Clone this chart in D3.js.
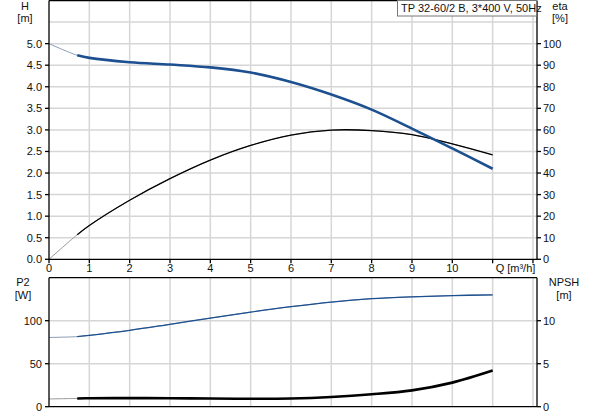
<html>
<head>
<meta charset="utf-8" />
<title>TP 32-60/2 B</title>
<script src="https://d3js.org/d3.v7.min.js"></script>
<style>
  body { margin: 0; background: #fff; }
  text { font-family: "Liberation Sans", Arial, sans-serif; font-size: 11px; fill: #111; }
</style>
</head>
<body>
<div id="chart"></div>
<script>
// flow points [m3/h]
var flow = [0, 0.7, 1, 2, 3, 4, 5, 6, 7, 8, 9, 10, 11];
// head H [m]
var head = [5.0, 4.73, 4.67, 4.57, 4.515, 4.45, 4.33, 4.11, 3.82, 3.47, 3.03, 2.57, 2.1];
// efficiency eta [%]
var eta = [0, 11.4, 15.7, 27.4, 37.4, 46.0, 52.8, 57.6, 59.9, 59.7, 57.8, 53.5, 48.4];
// power P2 [W]
var power = [80.5, 81.5, 83, 88.8, 95.8, 103, 110, 116.3, 121.7, 125.6, 127.8, 129.2, 130];
// NPSH [m]
var npsh = [0.9, 0.96, 0.98, 1.0, 0.98, 0.95, 0.93, 0.96, 1.13, 1.44, 1.9, 2.8, 4.2];

var xTicks = [0, 1, 2, 3, 4, 5, 6, 7, 8, 9, 10];
var hTicks = [0, 0.5, 1, 1.5, 2, 2.5, 3, 3.5, 4, 4.5, 5];
var etaTicks = [0, 10, 20, 30, 40, 50, 60, 70, 80, 90, 100];
var p2Ticks = [0, 50, 100];
var npshTicks = [0, 5, 10];
var title = "TP 32-60/2 B, 3*400 V, 50Hz";

var width = 593, height = 415;
var left = 49, right = 537;
var topY0 = 259.3, topY1 = 0.5;
var botY0 = 406.7, botY1 = 277.7;
var blue = "#1d5090", grid = "#d6d6d6";

var svg = d3.select("#chart").append("svg")
    .attr("width", width).attr("height", height);

var x = d3.scaleLinear().domain([0, 12.1]).range([left, right]);
var yH = d3.scaleLinear().domain([0, 6]).range([topY0, topY1]);
var yEta = d3.scaleLinear().domain([0, 120]).range([topY0, topY1]);
var yP2 = d3.scaleLinear().domain([0, 150]).range([botY0, botY1]);
var yNpsh = d3.scaleLinear().domain([0, 15]).range([botY0, botY1]);

var gridX = d3.range(1, 13);

// grids
var g = svg.append("g").attr("stroke", grid).attr("stroke-width", 1.5);
gridX.forEach(function(v) {
  g.append("line").attr("x1", x(v)).attr("x2", x(v)).attr("y1", topY1).attr("y2", topY0);
  g.append("line").attr("x1", x(v)).attr("x2", x(v)).attr("y1", botY1).attr("y2", botY0);
});
d3.range(0.5, 6, 0.5).forEach(function(v) {
  g.append("line").attr("x1", left).attr("x2", right).attr("y1", yH(v)).attr("y2", yH(v));
});
[50, 100].forEach(function(v) {
  g.append("line").attr("x1", left).attr("x2", right).attr("y1", yP2(v)).attr("y2", yP2(v));
});

// curves: thin full curve, thick over the working range
function drawCurve(ys, yScale, thinColor, color, w, thinW, from) {
  var pts = flow.map(function(q, i) { return [q, ys[i]]; });
  var line = d3.line().x(function(d) { return x(d[0]); })
      .y(function(d) { return yScale(d[1]); }).curve(d3.curveCatmullRom.alpha(0.5));
  svg.append("path").attr("d", line(pts)).attr("fill", "none")
      .attr("stroke", thinColor).attr("stroke-width", thinW);
  svg.append("path").attr("d", line(pts.filter(function(d) { return d[0] >= from; })))
      .attr("fill", "none").attr("stroke", color).attr("stroke-width", w);
}
drawCurve(eta, yEta, "#999", "#000", 1.3, 1, 0.7);
drawCurve(head, yH, "#8a9ab5", blue, 2.6, 1, 0.7);
drawCurve(power, yP2, "#8a9ab5", blue, 1.3, 1, 0.7);
drawCurve(npsh, yNpsh, "#999", "#000", 2.6, 1, 0.7);

// frames / axes
var a = svg.append("g").attr("stroke", "#000").attr("stroke-width", 1.3);
a.append("line").attr("x1", left).attr("x2", right).attr("y1", topY1).attr("y2", topY1);
a.append("line").attr("x1", left).attr("x2", right).attr("y1", topY0).attr("y2", topY0);
a.append("line").attr("x1", left).attr("x2", left).attr("y1", topY1).attr("y2", topY0);
a.append("line").attr("x1", right).attr("x2", right).attr("y1", topY1).attr("y2", topY0);
a.append("line").attr("x1", left).attr("x2", right).attr("y1", botY1).attr("y2", botY1);
a.append("line").attr("x1", left).attr("x2", right).attr("y1", botY0).attr("y2", botY0);
a.append("line").attr("x1", left).attr("x2", left).attr("y1", botY1).attr("y2", botY0);
a.append("line").attr("x1", right).attr("x2", right).attr("y1", botY1).attr("y2", botY0);

// axis ticks and labels
function leftTicks(ticks, scale, fmt) {
  ticks.forEach(function(v) {
    a.append("line").attr("x1", left - 4).attr("x2", left).attr("y1", scale(v)).attr("y2", scale(v));
    svg.append("text").attr("x", left - 7).attr("y", scale(v) + 4)
      .attr("text-anchor", "end").text(fmt(v));
  });
}
function rightTicks(ticks, scale) {
  ticks.forEach(function(v) {
    a.append("line").attr("x1", right).attr("x2", right + 4).attr("y1", scale(v)).attr("y2", scale(v));
    svg.append("text").attr("x", right + 6).attr("y", scale(v) + 4).text(v);
  });
}
leftTicks(hTicks, yH, d3.format(".1f"));
rightTicks(etaTicks, yEta);
leftTicks(p2Ticks, yP2, function(v) { return v; });
rightTicks(npshTicks, yNpsh);

// x axis
xTicks.concat([11, 12]).forEach(function(v) {
  a.append("line").attr("x1", x(v)).attr("x2", x(v)).attr("y1", topY0).attr("y2", topY0 + 4);
});
xTicks.forEach(function(v) {
  svg.append("text").attr("x", x(v)).attr("y", 272).attr("text-anchor", "middle").text(v);
});
svg.append("text").attr("x", x(11) + 3).attr("y", 272).text("Q [m³/h]");

// axis titles
function label(tx, ty, t) {
  svg.append("text").attr("x", tx).attr("y", ty).attr("text-anchor", "middle").text(t);
}
label(25, 10, "H"); label(25, 22, "[m]");
label(560, 10, "eta"); label(560, 22, "[%]");
label(23, 286, "P2"); label(23, 299, "[W]");
label(564, 286, "NPSH"); label(564, 299, "[m]");

// title box
svg.append("rect").attr("x", 397.5).attr("y", 0.5).attr("width", 139).attr("height", 15.5)
  .attr("fill", "#fff").attr("stroke", "#777");
svg.append("text").attr("x", 401).attr("y", 12).text(title);
</script>
</body>
</html>
